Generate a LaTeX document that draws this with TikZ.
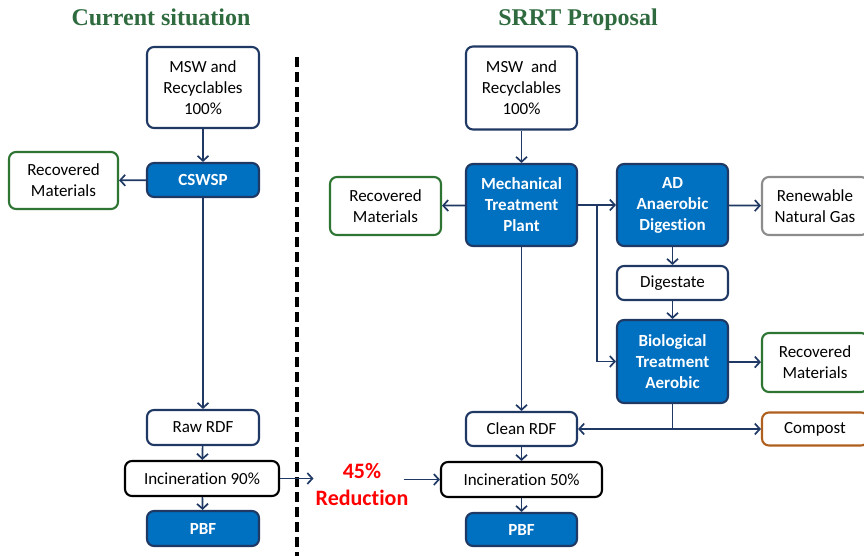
\documentclass[tikz,border=0pt]{standalone}
\usepackage{fontspec}
\setmainfont[Ligatures=NoCommon]{Carlito}
\newfontfamily\titlefont{Liberation Serif}
\usetikzlibrary{arrows.meta,calc}

\definecolor{procblue}{HTML}{0070C0}
\definecolor{navy}{HTML}{1F3864}
\definecolor{recgreen}{HTML}{2E7533}
\definecolor{titlegreen}{HTML}{2F6B3F}
\definecolor{gasgray}{HTML}{8C8C8C}
\definecolor{compbrown}{HTML}{B0601E}

\tikzset{
	box/.style={draw=navy, line width=2.1pt, rounded corners=7pt, align=center,
		inner sep=2pt, fill=white, font=\fontsize{17}{21}\selectfont},
	procbox/.style={box, fill=procblue, text=white,
		font=\fontsize{17}{21}\selectfont\bfseries},
	recbox/.style={box, draw=recgreen},
	headline/.style={anchor=base, text=titlegreen, font=\titlefont\fontsize{24}{28}\selectfont\bfseries},
	flow/.style={->, draw=navy, line width=1.7pt},
}

\begin{document}
\begin{tikzpicture}[x=1pt, y=-1pt, >={Straight Barb[length=5pt,width=11pt]}]
		\useasboundingbox (0,0) rectangle (864,556);
		%\draw[help lines, step=50] (0,0) grid (864,556);
		
		\node[headline] (curtitle) at (161,26) {Current situation};
		\node[headline] (proptitle) at (578,26) {SRRT Proposal};
		
		% current situation
		\node[box, minimum width=112pt, minimum height=81pt] (mswL) at (203,87.5) {MSW and\\Recyclables\\100\%};
		\node[procbox, minimum width=112pt, minimum height=34pt] (cswsp) at (203,180) {CSWSP};
		\node[recbox, minimum width=109pt, minimum height=57pt] (recL) at (63.5,180.5) {Recovered\\Materials};
		\node[box, minimum width=112pt, minimum height=35pt] (rawrdf) at (203,427.5) {Raw RDF};
		\node[box, draw=black, minimum width=154pt, minimum height=35pt] (incL) at (202,478.5) {Incineration 90\%};
		\node[procbox, minimum width=112pt, minimum height=35pt] (pbfL) at (203,528.5) {PBF};
		
		\draw[dashed, line width=3.2pt, dash pattern=on 10pt off 5pt] (297,57) -- (297,556);
		
		\node[text=red, align=center, inner sep=2pt,
			font=\fontsize{22}{27}\selectfont\bfseries] (reduc) at (362,484) {45\%\\Reduction};
		
		% SRRT proposal
		\node[box, minimum width=111pt, minimum height=83pt] (mswR) at (521.5,88) {MSW~ and\\Recyclables\\100\%};
		\node[procbox, minimum width=111pt, minimum height=82pt] (mtp) at (521.5,205) {Mechanical\\Treatment\\Plant};
		\node[recbox, minimum width=111pt, minimum height=58pt] (recR) at (385.5,206) {Recovered\\Materials};
		\node[procbox, minimum width=111pt, minimum height=82pt] (ad) at (672.5,205) {AD\\Anaerobic\\Digestion};
		\node[box, draw=gasgray, minimum width=106pt, minimum height=58pt] (rng) at (815,206) {Renewable\\Natural Gas};
		\node[box, minimum width=111pt, minimum height=34pt] (dig) at (672.5,283) {Digestate};
		\node[procbox, minimum width=111pt, minimum height=83pt] (bio) at (672.5,361.5) {Biological\\Treatment\\Aerobic};
		\node[recbox, minimum width=106pt, minimum height=59pt] (recR2) at (815,362.5) {Recovered\\Materials};
		\node[box, minimum width=111pt, minimum height=34pt] (crdf) at (521.5,429) {Clean RDF};
		\node[box, draw=compbrown, minimum width=106pt, minimum height=33pt] (compost) at (815,429) {Compost};
		\node[box, draw=black, minimum width=161pt, minimum height=35pt] (incR) at (521.5,479.5) {Incineration 50\%};
		\node[procbox, minimum width=111pt, minimum height=33pt] (pbfR) at (521.5,529.5) {PBF};
		
		\coordinate (split) at ($(mtp.east)!.5!(ad.west)$);
		
		\foreach \a\b in {mswL/cswsp, cswsp/rawrdf, rawrdf/incL, incL/pbfL,
			mswR/mtp, mtp/crdf, ad/dig, dig/bio, crdf/incR, incR/pbfR}
		\draw[flow] (\a) -- (\b);
		
		\foreach \a\b in {cswsp/recL, mtp/recR, mtp/ad, ad/rng, bio/recR2}
		\draw[flow] (\a) -- (\b);
		
		\draw[flow] (split) |- (bio.west);
		\draw[flow] (bio.south) |- (crdf.east);
		\draw[flow] (bio.south) |- (compost.west);
		
		\draw[flow] (incL.east) -- (incL.east -| reduc.west);
		\draw[flow] ([xshift=-7pt]reduc.east |- incR.west) -- (incR.west);
		
	\end{tikzpicture}
\end{document}
